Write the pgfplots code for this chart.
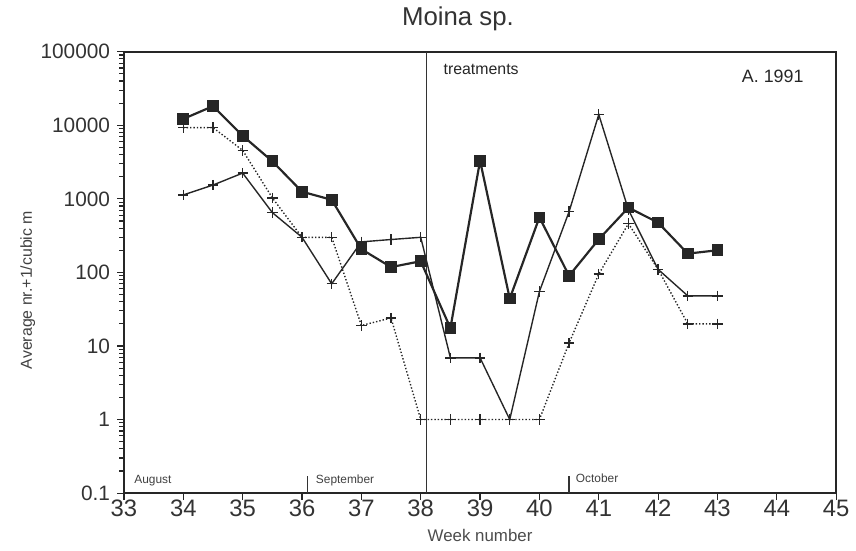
\documentclass[border=0pt]{standalone}
\usepackage{fontspec}
\setmainfont{Liberation Sans}
\usepackage{pgfplots}
\pgfplotsset{compat=1.18}
\begin{document}
\begin{tikzpicture}
\begin{axis}[name=ax, scale only axis, width=359pt, height=222.5pt,
  xmin=33, xmax=45, ymode=log, ymin=0.1, ymax=100000,
  xtick={33,34,...,45},
  ytick={0.1,1,10,100,1000,10000,100000},
  yticklabels={0.1,1,10,100,1000,10000,100000},
  minor ytick={0.2,0.3,0.4,0.5,0.6,0.7,0.8,0.9,2,3,4,5,6,7,8,9,20,30,40,50,60,70,80,90,200,300,400,500,600,700,800,900,2000,3000,4000,5000,6000,7000,8000,9000,20000,30000,40000,50000,60000,70000,80000,90000},
  /pgf/number format/assume math mode=true,
  tick align=outside, xtick pos=left, ytick pos=left,
  major tick length=3.5pt, minor tick length=2.5pt,
  every tick/.style={black!85, line width=0.6pt},
  axis line style={black!85, line width=0.9pt},
  x tick label style={font=\fontsize{12}{12}\selectfont, text=black!80, yshift=3.5pt},
  y tick label style={font=\fontsize{10.5}{10.5}\selectfont, text=black!80},
  clip=false,
  title={Moina sp.},
  title style={at={(axis description cs:0.469,1.048)}, anchor=center, font=\fontsize{13}{13}\selectfont, text=black!80},
  xlabel={Week number},
  xlabel style={at={(axis description cs:0.5,-0.097)}, anchor=center, font=\fontsize{8.5}{8.5}\selectfont, text=black!70},
  ylabel={Average nr.+1/cubic m},
  ylabel style={at={(axis description cs:-0.135,0.46)}, anchor=center, font=\fontsize{8}{8}\selectfont, text=black!75},
]
% treatments line
\addplot[black!80, line width=0.6pt, forget plot] coordinates {(38.1,0.1) (38.1,100000)};
% squares series
\addplot[black!85, line width=1.1pt, mark=square*, mark size=2.4pt] coordinates {
(34,12200) (34.5,18200) (35,7200) (35.5,3240) (36,1250) (36.5,970) (37,207) (37.5,118) (38,142)
(38.5,17.5) (39,3300) (39.5,44) (40,560) (40.5,90) (41,282) (41.5,760) (42,475) (42.5,180) (43,200)};
% thin solid plus series
\addplot[black!85, line width=0.7pt, mark=+, mark size=2.6pt] coordinates {
(34,1130) (34.5,1540) (35,2240) (35.5,650) (36,300) (36.5,70) (37,260) (37.5,280) (38,300)
(38.5,6.9) (39,6.9) (39.5,1) (40,55) (40.5,670) (41,14000) (41.5,710) (42,110) (42.5,48) (43,48)};
% dotted plus series
\addplot[black!85, line width=0.7pt, densely dotted, mark=+, mark size=2.6pt, mark options={solid}] coordinates {
(34,9300) (34.5,9300) (35,4560) (35.5,1030) (36,300) (36.5,300) (37,19) (37.5,24) (38,1)
(38.5,1) (39,1) (39.5,1) (40,1) (40.5,11) (41,95) (41.5,460) (42,110) (42.5,20) (43,20)};
% annotations
\node[anchor=west, font=\fontsize{8}{8}\selectfont, text=black!85] at (axis description cs:0.439,0.96) {treatments};
\node[anchor=center, font=\fontsize{9}{9}\selectfont, text=black!85] at (axis description cs:0.911,0.944) {A. 1991};
\draw[black!80, line width=0.6pt] (axis description cs:0.2577,0) -- (axis description cs:0.2577,0.038);
\draw[black!80, line width=0.6pt] (axis description cs:0.625,0) -- (axis description cs:0.625,0.038);
\node[anchor=west, font=\fontsize{6}{6}\selectfont, text=black!75, inner sep=0pt] at (axis description cs:0.014,0.029) {August};
\node[anchor=west, font=\fontsize{6}{6}\selectfont, text=black!75, inner sep=0pt] at (axis description cs:0.269,0.029) {September};
\node[anchor=west, font=\fontsize{6}{6}\selectfont, text=black!75, inner sep=0pt] at (axis description cs:0.634,0.034) {October};
\end{axis}
\path (ax.south west) ++(-62.5pt,-29pt) rectangle ++(428pt,276.5pt);
\end{tikzpicture}
\end{document}
